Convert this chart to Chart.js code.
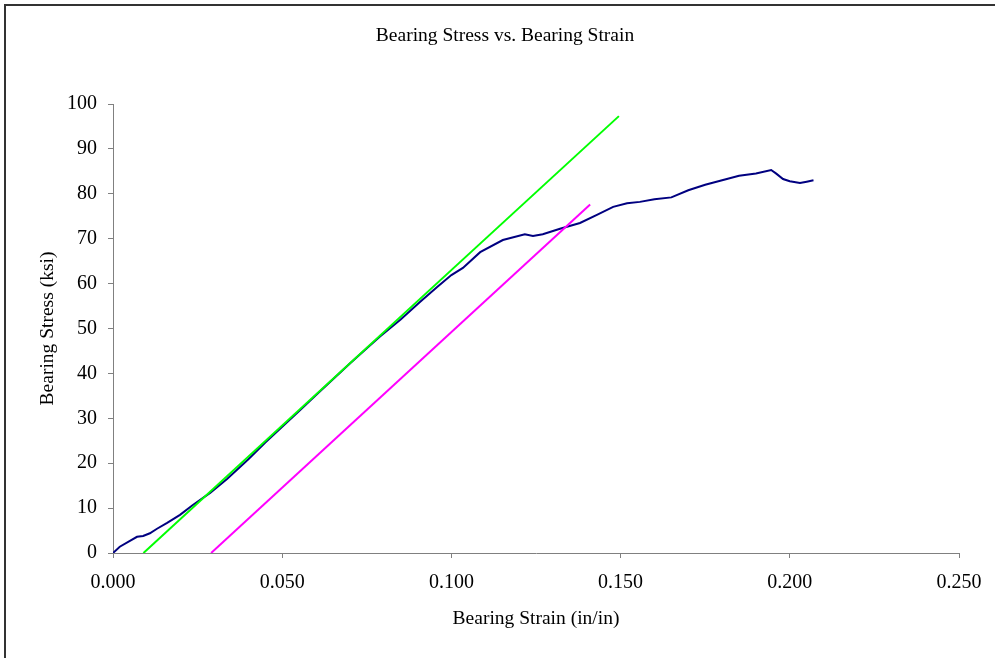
<!DOCTYPE html>
<html>
<head>
<meta charset="utf-8">
<script src="https://cdn.jsdelivr.net/npm/chart.js@4"></script>
<style>
  html, body { margin: 0; padding: 0; background: #fff; overflow: hidden; }
  #wrap { position: relative; width: 995px; height: 658px; }
  #frame { position: absolute; left: 4px; top: 4px; width: 1000px; height: 700px; border: 2px solid #333; pointer-events: none; }
</style>
</head>
<body>
<div id="wrap">
  <canvas id="chart" width="995" height="658"></canvas>
  <div id="frame"></div>
</div>
<script>
// test curve (blue)
const testStrain = [0, 0.002, 0.005, 0.0071, 0.0089, 0.0109, 0.013, 0.016, 0.0198, 0.0236, 0.0287, 0.0337,
  0.040, 0.045, 0.050, 0.055, 0.060, 0.065, 0.070, 0.075, 0.0789, 0.085, 0.0907, 0.0957, 0.100, 0.1034,
  0.1085, 0.1152, 0.1217, 0.1241, 0.127, 0.1321, 0.138, 0.143, 0.1478, 0.1519, 0.1557, 0.160, 0.165,
  0.170, 0.175, 0.180, 0.185, 0.190, 0.1945, 0.196, 0.198, 0.200, 0.203, 0.205, 0.207];
const testStress = [0, 1.4, 2.7, 3.6, 3.8, 4.4, 5.4, 6.7, 8.5, 10.7, 13.4, 16.5,
  20.9, 24.6, 28.1, 31.6, 35.2, 38.7, 42.2, 45.6, 48.2, 52.0, 55.9, 59.2, 61.9, 63.5,
  67.0, 69.7, 71.0, 70.6, 71.0, 72.2, 73.5, 75.3, 77.1, 77.9, 78.2, 78.8, 79.2,
  80.8, 82.0, 83.0, 84.0, 84.5, 85.3, 84.5, 83.3, 82.8, 82.4, 82.7, 83.0];

// offset lines (green and magenta)
const greenStrain = [0.009, 0.1495];
const greenStress = [0, 97.3];
const magentaStrain = [0.029, 0.141];
const magentaStress = [0, 77.6];

const xTicks = [0, 0.05, 0.10, 0.15, 0.20, 0.25];
const yTicks = [0, 10, 20, 30, 40, 50, 60, 70, 80, 90, 100];

const chartTitle = 'Bearing Stress vs. Bearing Strain';

function toPoints(xs, ys) {
  return xs.map((x, i) => ({ x: x, y: ys[i] }));
}

const serif = 'Liberation Serif';

function lineSet(label, xs, ys, color) {
  return {
    label: label,
    data: toPoints(xs, ys),
    showLine: true,
    borderColor: color,
    backgroundColor: color,
    borderWidth: 2,
    pointRadius: 0,
    tension: 0
  };
}

// title sits a bit right of the chart's centre, so draw it by hand
const titlePlugin = {
  id: 'offsetTitle',
  afterDraw(chart) {
    const ctx = chart.ctx;
    ctx.save();
    ctx.font = '19.5px "' + serif + '"';
    ctx.fillStyle = '#000';
    ctx.textAlign = 'center';
    ctx.textBaseline = 'middle';
    ctx.fillText(chartTitle, 505, 36);
    ctx.restore();
  }
};

new Chart(document.getElementById('chart').getContext('2d'), {
  type: 'scatter',
  data: {
    datasets: [
      lineSet('Offset 2', magentaStrain, magentaStress, '#ff00ff'),
      lineSet('Offset 1', greenStrain, greenStress, '#00ff00'),
      lineSet('Test', testStrain, testStress, '#000080')
    ]
  },
  plugins: [titlePlugin],
  options: {
    responsive: false,
    animation: false,
    layout: { padding: { left: 0, right: 36, top: 104, bottom: 0 } },
    plugins: {
      legend: { display: false },
      tooltip: { enabled: false },
      title: { display: false }
    },
    scales: {
      x: {
        type: 'linear',
        min: 0,
        max: 0.25,
        afterBuildTicks: s => { s.ticks = xTicks.map(v => ({ value: v })); },
        afterFit: s => { s.height = 105; },
        ticks: {
          color: '#000',
          font: { family: serif, size: 20 },
          padding: 13,
          maxRotation: 0,
          callback: v => Number(v).toFixed(3)
        },
        grid: { drawOnChartArea: false, drawTicks: true, tickLength: 5, color: '#808080' },
        border: { color: '#808080', width: 1 },
        title: {
          display: true,
          text: 'Bearing Strain (in/in)',
          color: '#000',
          font: { family: serif, size: 19.5 },
          padding: { top: 0, bottom: 27 }
        }
      },
      y: {
        type: 'linear',
        min: 0,
        max: 100,
        afterBuildTicks: s => { s.ticks = yTicks.map(v => ({ value: v })); },
        afterFit: s => { s.width = 113; },
        ticks: {
          color: '#000',
          font: { family: serif, size: 20 },
          padding: 11
        },
        grid: { drawOnChartArea: false, drawTicks: true, tickLength: 5, color: '#808080' },
        border: { color: '#808080', width: 1 },
        title: {
          display: true,
          text: 'Bearing Stress (ksi)',
          color: '#000',
          font: { family: serif, size: 19.5 },
          padding: { top: 36, bottom: 0 }
        }
      }
    }
  }
});
</script>
</body>
</html>
